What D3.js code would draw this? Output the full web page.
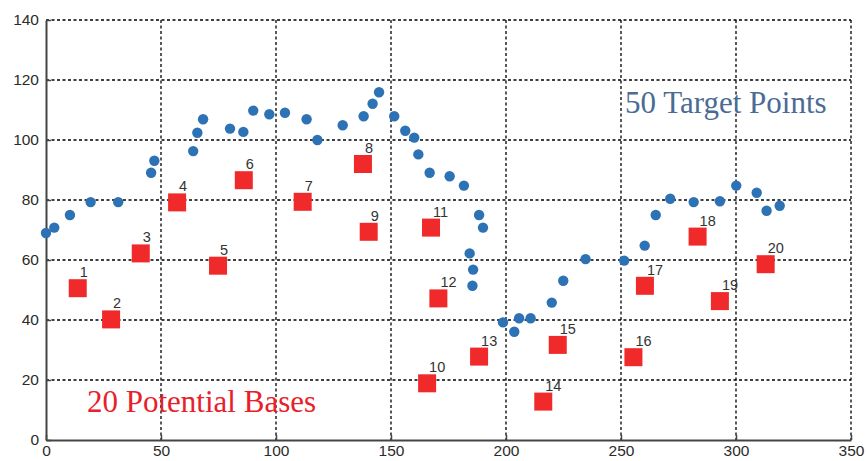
<!DOCTYPE html>
<html>
<head>
<meta charset="utf-8">
<script src="https://cdn.jsdelivr.net/npm/d3@7"></script>
<style>
  body { margin: 0; background: #fff; }
  svg { display: block; }
</style>
</head>
<body>
<div id="chart"></div>
<script>
// 50 target points
const targetX = [0, 3.6, 10.4, 19.4, 31.4, 45.7, 47.1, 64, 65.8, 68.3,
  80, 85.8, 90.1, 97.1, 103.9, 113.3, 118, 129, 138.1, 142,
  144.8, 151.4, 156.2, 160.1, 161.9, 166.8, 175.5, 181.7, 188.3, 190,
  184.2, 185.7, 185.4, 198.7, 203.6, 205.7, 210.7, 219.9, 224.9, 234.6,
  251.4, 260.3, 265.1, 271.4, 281.6, 293, 300.1, 309, 313.3, 319];
const targetY = [69, 70.8, 75, 79.3, 79.3, 89.1, 93.1, 96.3, 102.4, 106.9,
  103.8, 102.7, 109.8, 108.6, 109.1, 106.9, 100, 104.9, 107.9, 112.1,
  115.9, 107.9, 103.1, 100.8, 95.2, 89.1, 87.9, 84.8, 75, 70.8,
  62.2, 56.8, 51.4, 39.2, 36.1, 40.6, 40.6, 45.8, 53.1, 60.3,
  59.8, 64.8, 75, 80.4, 79.3, 79.6, 84.8, 82.4, 76.4, 78.1];

// 20 potential bases
const baseLabels = ["1","2","3","4","5","6","7","8","9","10",
  "11","12","13","14","15","16","17","18","19","20"];
const baseX = [13.8, 28.3, 41.2, 57, 74.8, 86, 111.6, 137.8, 140.3, 165.7,
  167.4, 170.6, 188.3, 216.2, 222.5, 255.4, 260.4, 283.3, 293, 312.9];
const baseY = [50.6, 40.2, 62.2, 79.2, 58.1, 86.6, 79.4, 92, 69.4, 18.9,
  70.8, 47.2, 27.8, 12.8, 31.7, 27.6, 51.4, 67.8, 46.3, 58.6];

const xTicks = [0, 50, 100, 150, 200, 250, 300, 350];
const yTicks = [0, 20, 40, 60, 80, 100, 120, 140];

const W = 867, H = 461;
const mLeft = 46, mRight = 851, mTop = 20, mBottom = 440;

const svg = d3.select("#chart").append("svg")
  .attr("width", W).attr("height", H);

const x = d3.scaleLinear().domain([0, 350]).range([mLeft, mRight]);
const y = d3.scaleLinear().domain([0, 140]).range([mBottom, mTop]);

// dotted grid
svg.append("g")
  .selectAll("line")
  .data(xTicks.slice(1))
  .enter().append("line")
  .attr("x1", d => x(d)).attr("x2", d => x(d))
  .attr("y1", mTop).attr("y2", mBottom)
  .attr("stroke", "#000").attr("stroke-width", 1.3)
  .attr("stroke-dasharray", "3,2.5");
svg.append("g")
  .selectAll("line")
  .data(yTicks.slice(1))
  .enter().append("line")
  .attr("x1", mLeft).attr("x2", mRight)
  .attr("y1", d => y(d)).attr("y2", d => y(d))
  .attr("stroke", "#000").attr("stroke-width", 1.3)
  .attr("stroke-dasharray", "3,2.5");

// axes
const axisB = d3.axisBottom(x).tickValues(xTicks)
  .tickSizeInner(-5).tickSizeOuter(0).tickPadding(5);
const axisL = d3.axisLeft(y).tickValues(yTicks)
  .tickSizeInner(-5).tickSizeOuter(0).tickPadding(7);

const gx = svg.append("g")
  .attr("transform", `translate(0,${mBottom})`)
  .call(axisB);
const gy = svg.append("g")
  .attr("transform", `translate(${mLeft},0)`)
  .call(axisL);

[gx, gy].forEach(g => {
  g.select(".domain").attr("stroke", "#444").attr("stroke-width", 2);
  g.selectAll(".tick line").attr("stroke", "#444").attr("stroke-width", 1.5);
  g.selectAll(".tick text")
    .attr("fill", "#2b2b2b")
    .style("font-family", "'Liberation Sans', Arial, sans-serif")
    .style("font-size", "15.5px");
});

// target points
svg.append("g")
  .selectAll("circle")
  .data(targetX.map((d, i) => [d, targetY[i]]))
  .enter().append("circle")
  .attr("cx", d => x(d[0]))
  .attr("cy", d => y(d[1]))
  .attr("r", 5.2)
  .attr("fill", "#2e72b6");

// bases
const sq = 18;
const bases = baseX.map((d, i) => ({ x: d, y: baseY[i], label: baseLabels[i] }));
svg.append("g")
  .selectAll("rect")
  .data(bases)
  .enter().append("rect")
  .attr("x", d => x(d.x) - sq / 2)
  .attr("y", d => y(d.y) - sq / 2)
  .attr("width", sq).attr("height", sq)
  .attr("fill", "#f02a2a");

svg.append("g")
  .selectAll("text")
  .data(bases)
  .enter().append("text")
  .attr("x", d => x(d.x) + 2)
  .attr("y", d => y(d.y) - 11)
  .attr("fill", "#333")
  .style("font-family", "'Liberation Sans', Arial, sans-serif")
  .style("font-size", "14.5px")
  .text(d => d.label);

// annotations
svg.append("text")
  .attr("x", 625).attr("y", 113)
  .attr("fill", "#4a6b94")
  .style("font-family", "'Liberation Serif', 'Times New Roman', serif")
  .style("font-size", "31px")
  .text("50 Target Points");

svg.append("text")
  .attr("x", 87).attr("y", 412)
  .attr("fill", "#e8202a")
  .style("font-family", "'Liberation Serif', 'Times New Roman', serif")
  .style("font-size", "31px")
  .text("20 Potential Bases");
</script>
</body>
</html>
